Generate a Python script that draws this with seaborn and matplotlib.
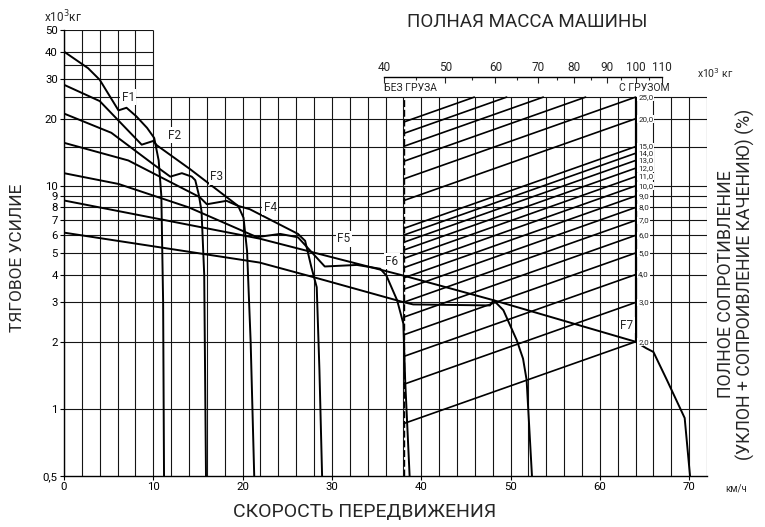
import numpy as np
import pandas as pd
import seaborn as sns
import matplotlib.pyplot as plt

# ---- data ----
speed_ticks = [0, 10, 20, 30, 40, 50, 60, 70]
pull_ticks = [0.5, 1, 2, 3, 4, 5, 6, 7, 8, 9, 10, 20, 30, 40, 50]
pull_ticklabels = ["0,5", "1", "2", "3", "4", "5", "6", "7", "8", "9", "10", "20", "30", "40", "50"]
mass_ticks = [40, 50, 60, 70, 80, 90, 100, 110]
mass_minor = [45, 55, 65, 75, 85, 95, 105]
mass_empty = 43
mass_loaded = 100
resist = [2, 3, 4, 5, 6, 7, 8, 9, 10, 11, 12, 13, 14, 15, 20, 25, 30, 35, 40, 45]
resist_labels = [2, 3, 4, 5, 6, 7, 8, 9, 10, 11, 12, 13, 14, 15, 20, 25]

f1_speed = [0, 2.7, 4.0, 6.1, 7.0, 8.1, 9.3, 10.1, 10.6, 10.9, 11.1, 11.2]
f1_pull = [40, 33.7, 29.9, 21.8, 22.4, 20.5, 18.2, 16.4, 13.0, 9.0, 3.0, 0.5]
f2_speed = [0, 4.0, 8.7, 10.0, 10.4, 14.1, 19.5, 20.1, 20.5, 20.9, 21.3]
f2_pull = [28.4, 24.0, 15.3, 15.9, 15.2, 11.9, 8.13, 7.2, 5.1, 2.0, 0.5]
f3_speed = [0, 5.3, 10.0, 11.9, 13.2, 14.3, 14.7, 15.1, 15.4, 15.7, 15.9]
f3_pull = [21.1, 17.3, 12.5, 11.0, 11.4, 11.0, 10.6, 9.1, 7.7, 4.0, 0.5]
f4_speed = [0, 7.2, 15.2, 16.0, 18.2, 19.5, 20.8, 26.2, 27.0, 27.7, 28.3, 28.6, 28.9]
f4_pull = [15.6, 13.0, 8.9, 8.27, 8.57, 8.13, 7.86, 6.09, 5.67, 4.32, 3.51, 1.5, 0.5]
f5_speed = [0, 6.1, 14.0, 21.6, 24.2, 26.2, 29.2, 32.8, 35.4, 36.1, 37.3, 38.0, 38.2, 38.7]
f5_pull = [11.4, 10.2, 8.0, 5.89, 6.09, 5.88, 4.35, 4.42, 4.25, 3.96, 3.07, 2.41, 1.35, 0.5]
f6_speed = [0, 21.9, 38.0, 48.1, 49.2, 50.7, 51.4, 51.8, 52.4]
f6_pull = [8.6, 5.8, 3.96, 3.07, 2.77, 2.03, 1.68, 1.35, 0.5]
f7_speed = [0, 21.9, 27.9, 38.0, 39.1, 47.7, 48.1, 64.0, 65.2, 66.0, 67.5, 69.5, 70.1]
f7_pull = [6.17, 4.53, 3.9, 3.01, 2.94, 2.91, 3.07, 2.0, 1.87, 1.80, 1.35, 0.91, 0.5]

gears = ["F1", "F2", "F3", "F4", "F5", "F6", "F7"]
gear_speed = [f1_speed, f2_speed, f3_speed, f4_speed, f5_speed, f6_speed, f7_speed]
gear_pull = [f1_pull, f2_pull, f3_pull, f4_pull, f5_pull, f6_pull, f7_pull]

# ---- mass scale placed on the speed axis (log) ----
X_EMPTY = 38.07      # speed-axis position of the empty mass
X_PER_DECADE = 70.75


def mass_to_speed(m):
    m = np.asarray(m, dtype=float)
    return X_EMPTY + X_PER_DECADE * np.log10(np.clip(m, 1e-6, None) / mass_empty)


def speed_to_mass(x):
    x = np.asarray(x, dtype=float)
    return mass_empty * 10 ** ((x - X_EMPTY) / X_PER_DECADE)


rows = []
for g, xs, ys in zip(gears, gear_speed, gear_pull):
    for i, (x, y) in enumerate(zip(xs, ys)):
        rows.append({"gear": g, "speed": x, "pull": y, "order": i})
df_gear = pd.DataFrame(rows)

rows = []
for r in resist:
    m_end = min(mass_loaded, 25 * 100 / r)
    for i, m in enumerate([mass_empty, m_end]):
        rows.append({"res": r, "speed": float(mass_to_speed(m)), "pull": m * r / 100, "order": i})
df_res = pd.DataFrame(rows)

sns.set_theme(style="white")
plt.rcParams["font.family"] = ["Roboto", "DejaVu Sans"]

fig = plt.figure(figsize=(7.65, 5.27), dpi=100)
ax = fig.add_axes([64 / 765, 51 / 527, 643 / 765, 446 / 527])
ax.set_yscale("log")
ax.set_xlim(0, 72)
ax.set_ylim(0.5, 50)

grid_kw = dict(color="#151515", lw=0.8, zorder=1)
for x in range(0, 73, 2):
    ax.vlines(x, 0.5, 50 if x <= 10 else 25, **grid_kw)
ax.hlines([1, 2, 3, 4, 5, 6, 7, 8, 9, 10, 15, 20, 25], 0, 72, **grid_kw)
ax.hlines([30, 35, 40, 50], 0, 10, **grid_kw)

# mass reference lines
ax.vlines(mass_to_speed(mass_empty), 0.5, 25, color="black", lw=1.0, ls=(0, (5, 2)), zorder=2)
ax.vlines(mass_to_speed(mass_loaded), 2, 25, color="black", lw=1.6, zorder=2)

sns.lineplot(data=df_res, x="speed", y="pull", units="res", estimator=None, sort=False,
             color="black", lw=1.2, ax=ax, legend=False, zorder=3)
sns.lineplot(data=df_gear, x="speed", y="pull", units="gear", estimator=None, sort=False,
             color="black", lw=1.4, ax=ax, legend=False, zorder=4)

for side in ["top", "right"]:
    ax.spines[side].set_visible(False)
for side in ["left", "bottom"]:
    ax.spines[side].set_color("black")
    ax.spines[side].set_linewidth(1.0)

ax.set_xticks(speed_ticks)
ax.set_xticklabels([str(v) for v in speed_ticks])
ax.set_yticks(pull_ticks)
ax.set_yticklabels(pull_ticklabels)
ax.minorticks_off()
ax.tick_params(axis="both", direction="out", length=3, width=0.8, labelsize=8.2, pad=1.5,
               left=True, bottom=True, colors="black")
ax.set_xlabel("")
ax.set_ylabel("")

# resistance labels along the loaded-mass line
for r in resist_labels:
    ax.text(64.3, r, f"{r},0", fontsize=5.8, va="center", ha="left", color="#222",
            bbox=dict(facecolor="white", edgecolor="none", pad=0.6), zorder=6)

# gear labels
gear_lab = {"F1": (7.2, 25), "F2": (12.4, 16.9), "F3": (17.1, 11.0), "F4": (23.1, 8.0),
            "F5": (31.3, 5.8), "F6": (36.7, 4.6), "F7": (63.0, 2.37)}
for g, (x, y) in gear_lab.items():
    ax.text(x, y, g, fontsize=8.5, ha="center", va="center",
            bbox=dict(facecolor="white", edgecolor="none", pad=1.0), zorder=7)

# top mass axis
sec = ax.secondary_xaxis(0.8946, functions=(speed_to_mass, mass_to_speed))
sec.set_xticks(mass_ticks)
sec.set_xticks(mass_minor, minor=True)
sec.set_xticklabels([str(v) for v in mass_ticks])
sec.spines["top"].set_bounds(40, 110)
sec.spines["top"].set_linewidth(1.0)
sec.spines["top"].set_color("black")
sec.tick_params(axis="x", which="major", direction="in", length=4, width=0.8, labelsize=8.5, pad=2)
sec.tick_params(axis="x", which="minor", direction="in", length=2.5, width=0.8)

fig.text(697 / 765, 1 - 73 / 527, "x10$^3$ кг", fontsize=7.5, va="center", ha="left")
fig.text(44 / 765, 1 - 17 / 527, "x10$^3$кг", fontsize=8.5, va="center", ha="left")
fig.text(384 / 765, 1 - 88 / 527, "БЕЗ ГРУЗА", fontsize=7.5, va="center", ha="left")
fig.text(670 / 765, 1 - 88 / 527, "С ГРУЗОМ", fontsize=7.5, va="center", ha="right")
fig.text(527 / 765, 1 - 22 / 527, "ПОЛНАЯ МАССА МАШИНЫ", fontsize=13.5, va="center", ha="center")
fig.text(725 / 765, 1 - 488 / 527, "км/ч", fontsize=7, va="center", ha="left")
fig.text(365 / 765, 1 - 512 / 527, "СКОРОСТЬ ПЕРЕДВИЖЕНИЯ", fontsize=14, va="center", ha="center")
fig.text(18 / 765, 1 - 258 / 527, "ТЯГОВОЕ УСИЛИЕ", fontsize=12.5, va="center", ha="center",
         rotation=90)
fig.text(736 / 765, 1 - 284 / 527, "ПОЛНОЕ СОПРОТИВЛЕНИЕ\n(УКЛОН + СОПРОИВЛЕНИЕ КАЧЕНИЮ) (%)",
         fontsize=12.8, va="center", ha="center", rotation=90, linespacing=1.0)

fig.savefig("out.png", dpi=100)
